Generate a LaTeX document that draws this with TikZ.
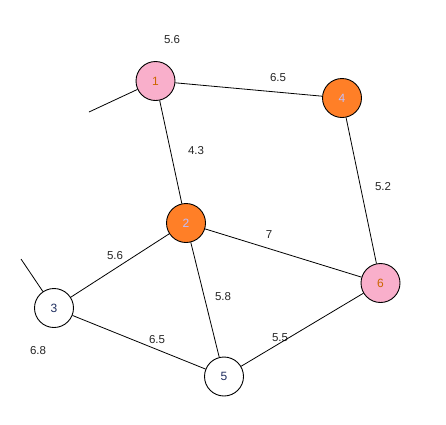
\documentclass[tikz,border=0pt]{standalone}
\usepackage{fontspec}
\setmainfont{Liberation Sans}
\usetikzlibrary{positioning}

\definecolor{hotorange}{RGB}{255,127,39}
\definecolor{softpink}{RGB}{249,175,203}
\definecolor{numblue}{RGB}{30,45,95}

\begin{document}
\begin{tikzpicture}[
    x=1pt, y=-1pt,
    vertex/.style={circle, draw, line width=0.9pt, minimum size=39pt, inner sep=0pt, font=\fontsize{12}{13}\selectfont, text=numblue},
    hot/.style={vertex, fill=hotorange, text=blue!25},
    warm/.style={vertex, fill=softpink, text=orange!80!black},
    cold/.style={vertex, fill=white},
    weight/.style={font=\fontsize{11.5}{13}\selectfont, inner sep=1pt, text=black!85},
    edge/.style={line width=0.8pt}
]
\useasboundingbox (0,0) rectangle (446,424);

% Vertices
\node[warm] (v1) at (155.5,81) {1};
\node[hot] (v4) at (342,98) {4};
\node[hot] (v2) at (186,223) {2};
\node[warm] (v6) at (380.5,283) {6};
\node[cold] (v3) at (54,308) {3};
\node[cold] (v5) at (224,376.5) {5};

% Loose ends
\coordinate (end1) at (89,112);
\coordinate (end3) at (21,259);

% Weights
\node[weight] (w1) at (172,40) {5.6};
\node[weight] (w14) at (278,78) {6.5};
\node[weight] (w12) at (196,151) {4.3};
\node[weight] (w46) at (383,187) {5.2};
\node[weight] (w26) at (269,235) {7};
\node[weight] (w23) at (115,256) {5.6};
\node[weight] (w25) at (223,297) {5.8};
\node[weight] (w35) at (157,340) {6.5};
\node[weight] (w56) at (280,338) {5.5};
\node[weight] (w3) at (38,351) {6.8};

% Edges
\draw[edge] (v1) -- (end1);
\draw[edge] (v3) -- (end3);
\draw[edge] (v1) -- (v4);
\draw[edge] (v1) -- (v2);
\draw[edge] (v4) -- (v6);
\draw[edge] (v2) -- (v6);
\draw[edge] (v2) -- (v3);
\draw[edge] (v2) -- (v5);
\draw[edge] (v3) -- (v5);
\draw[edge] (v5) -- (v6);

\end{tikzpicture}
\end{document}
